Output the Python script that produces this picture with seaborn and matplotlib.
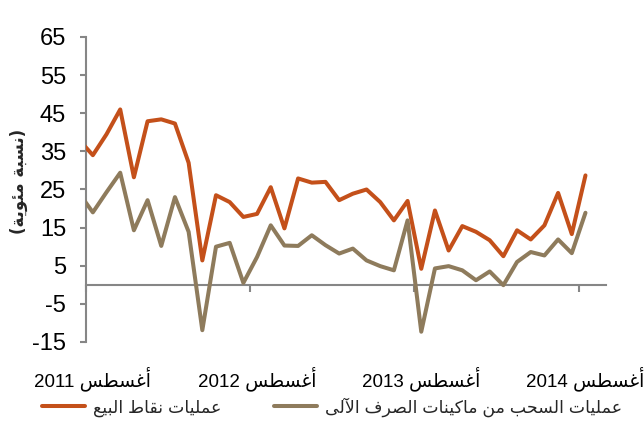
import re
import numpy as np
import pandas as pd
import matplotlib
matplotlib.use("Agg")
import matplotlib.pyplot as plt
import seaborn as sns

# ---------------- data ----------------
months = pd.date_range("2011-07-01", "2014-08-01", freq="MS")   # Jul 2011 .. Aug 2014
pos_values = [38.0, 34.0, 39.5, 46.0, 28.2, 42.9, 43.4, 42.3, 32.0, 6.4, 23.5, 21.7,
              17.8, 18.6, 25.6, 14.8, 27.9, 26.8, 27.0, 22.2, 23.9, 25.0, 21.7, 16.9,
              22.0, 4.2, 19.5, 9.0, 15.4, 13.9, 11.7, 7.5, 14.3, 11.9, 15.6, 24.1,
              13.3, 28.7]
atm_values = [24.0, 19.0, 24.3, 29.4, 14.3, 22.2, 10.2, 23.0, 13.9, -11.9, 10.0, 11.0,
              0.5, 7.3, 15.6, 10.3, 10.2, 13.0, 10.4, 8.2, 9.5, 6.4, 4.9, 3.8,
              16.9, -12.3, 4.3, 4.9, 3.8, 1.2, 3.5, -0.1, 6.0, 8.6, 7.7, 11.9,
              8.3, 18.9]
series_pos = "عمليات نقاط البيع"
series_atm = "عمليات السحب من ماكينات الصرف الآلى"
ylabel_text = "(نسبة مئوية)"
month_word = "أغسطس"
tick_years = ["2011", "2012", "2013", "2014"]
yticks = [-15, -5, 5, 15, 25, 35, 45, 55, 65]

# ---------------- minimal Arabic shaping for display ----------------
FORMS = {
    '\u0622': ('\uFE81', '\uFE82', None, None),
    '\u0623': ('\uFE83', '\uFE84', None, None),
    '\u0626': ('\uFE89', '\uFE8A', '\uFE8B', '\uFE8C'),
    '\u0627': ('\uFE8D', '\uFE8E', None, None),
    '\u0628': ('\uFE8F', '\uFE90', '\uFE91', '\uFE92'),
    '\u0629': ('\uFE93', '\uFE94', None, None),
    '\u062A': ('\uFE95', '\uFE96', '\uFE97', '\uFE98'),
    '\u062D': ('\uFEA1', '\uFEA2', '\uFEA3', '\uFEA4'),
    '\u0631': ('\uFEAD', '\uFEAE', None, None),
    '\u0633': ('\uFEB1', '\uFEB2', '\uFEB3', '\uFEB4'),
    '\u0635': ('\uFEB9', '\uFEBA', '\uFEBB', '\uFEBC'),
    '\u0637': ('\uFEC1', '\uFEC2', '\uFEC3', '\uFEC4'),
    '\u0639': ('\uFEC9', '\uFECA', '\uFECB', '\uFECC'),
    '\u063A': ('\uFECD', '\uFECE', '\uFECF', '\uFED0'),
    '\u0641': ('\uFED1', '\uFED2', '\uFED3', '\uFED4'),
    '\u0642': ('\uFED5', '\uFED6', '\uFED7', '\uFED8'),
    '\u0643': ('\uFED9', '\uFEDA', '\uFEDB', '\uFEDC'),
    '\u0644': ('\uFEDD', '\uFEDE', '\uFEDF', '\uFEE0'),
    '\u0645': ('\uFEE1', '\uFEE2', '\uFEE3', '\uFEE4'),
    '\u0646': ('\uFEE5', '\uFEE6', '\uFEE7', '\uFEE8'),
    '\u0648': ('\uFEED', '\uFEEE', None, None),
    '\u0649': ('\uFEEF', '\uFEF0', None, None),
    '\u064A': ('\uFEF1', '\uFEF2', '\uFEF3', '\uFEF4'),
}
LAM_ALEF = {'\u0627': ('\uFEFB', '\uFEFC'), '\u0623': ('\uFEF7', '\uFEF8'),
            '\u0622': ('\uFEF5', '\uFEF6'), '\u0625': ('\uFEF9', '\uFEFA')}


def shape(s):
    toks = []
    i = 0
    while i < len(s):
        c = s[i]
        if c == '\u0644' and i + 1 < len(s) and s[i + 1] in LAM_ALEF:
            toks.append(('LA', s[i + 1]))
            i += 2
        else:
            toks.append((c, None))
            i += 1
    out = []
    for k, (c, a) in enumerate(toks):
        prev = toks[k - 1][0] if k > 0 else None
        nxt = toks[k + 1][0] if k + 1 < len(toks) else None
        prev_conn = prev in FORMS and FORMS[prev][2] is not None
        if c == 'LA':
            out.append(LAM_ALEF[a][1 if prev_conn else 0])
            continue
        if c not in FORMS:
            out.append(c)
            continue
        iso, fin, ini, med = FORMS[c]
        next_conn = ini is not None and (nxt in FORMS or nxt == 'LA')
        if prev_conn and next_conn:
            out.append(med)
        elif prev_conn:
            out.append(fin)
        elif next_conn:
            out.append(ini)
        else:
            out.append(iso)
    return ''.join(out)


def rtl(s):
    parts = re.findall(r'[0-9]+|[^0-9]', shape(s))
    return ''.join(parts[::-1]).translate(str.maketrans('()', ')('))


# ---------------- styling ----------------
sns.set_theme(style="white")
FAMILY = ['Liberation Sans', 'DejaVu Sans Condensed', 'DejaVu Sans']
plt.rcParams['font.family'] = FAMILY
plt.rcParams['axes.unicode_minus'] = False

POS_COLOR = "#C4501A"
ATM_COLOR = "#8E7B5C"
AXIS_GRAY = "#868686"

x_index = np.arange(len(months)) - 0.5   # categories centred between month ticks
df = pd.DataFrame({
    "x": np.concatenate([x_index, x_index]),
    "value": pos_values + atm_values,
    "series": [series_pos] * len(months) + [series_atm] * len(months),
})

fig = plt.figure(figsize=(6.44, 4.23), dpi=100)
ax = fig.add_axes([86 / 644, 1 - 342 / 423, 520 / 644, 305 / 423])

sns.lineplot(data=df, x="x", y="value", hue="series",
             hue_order=[series_pos, series_atm],
             palette=[POS_COLOR, ATM_COLOR], linewidth=2.9, ax=ax,
             zorder=3)
for ln in ax.lines:
    ln.set_solid_capstyle('round')
    ln.set_solid_joinstyle('round')

ax.set_xlim(0, 38)
ax.set_ylim(-15, 65)

for side in ["top", "right"]:
    ax.spines[side].set_visible(False)
ax.spines["left"].set_color(AXIS_GRAY)
ax.spines["left"].set_linewidth(1.5)
ax.spines["bottom"].set_position(("data", 0))
ax.spines["bottom"].set_color(AXIS_GRAY)
ax.spines["bottom"].set_linewidth(1.5)

ax.set_yticks(yticks)
ax.set_yticklabels([str(v) for v in yticks])
ax.tick_params(axis="y", direction="out", length=4.3, width=1.5, color=AXIS_GRAY,
               pad=10, labelsize=17, labelcolor="black", left=True)

ax.set_xticks([0, 12, 24, 36])
ax.set_xticklabels([])
ax.set_xticks([0.5, 12.5, 24.5, 36.5], minor=True)
ax.set_xticklabels([rtl(month_word + " " + y) for y in tick_years], minor=True)
ax.tick_params(axis="x", which="major", direction="out", length=5, width=1.5,
               color=AXIS_GRAY, bottom=True)
ax.tick_params(axis="x", which="minor", length=0, pad=59, labelsize=13.5,
               labelcolor="black", bottom=True)

ax.set_xlabel("")
ax.set_ylabel(rtl(ylabel_text), fontsize=12, fontweight="bold",
              family=["DejaVu Sans"], va="center")
ax.yaxis.set_label_coords(-0.129, 0.525)

handles, labels = ax.get_legend_handles_labels()
ax.legend_.remove()
fig.legend(handles, [rtl(l) for l in labels], loc="center",
           bbox_to_anchor=(332 / 644, 1 - 407 / 423), ncol=2, frameon=False,
           handlelength=2.5, handletextpad=0.45, columnspacing=3.0,
           prop={"family": FAMILY, "size": 12.5})

fig.savefig("out.png", dpi=100, facecolor="white")
